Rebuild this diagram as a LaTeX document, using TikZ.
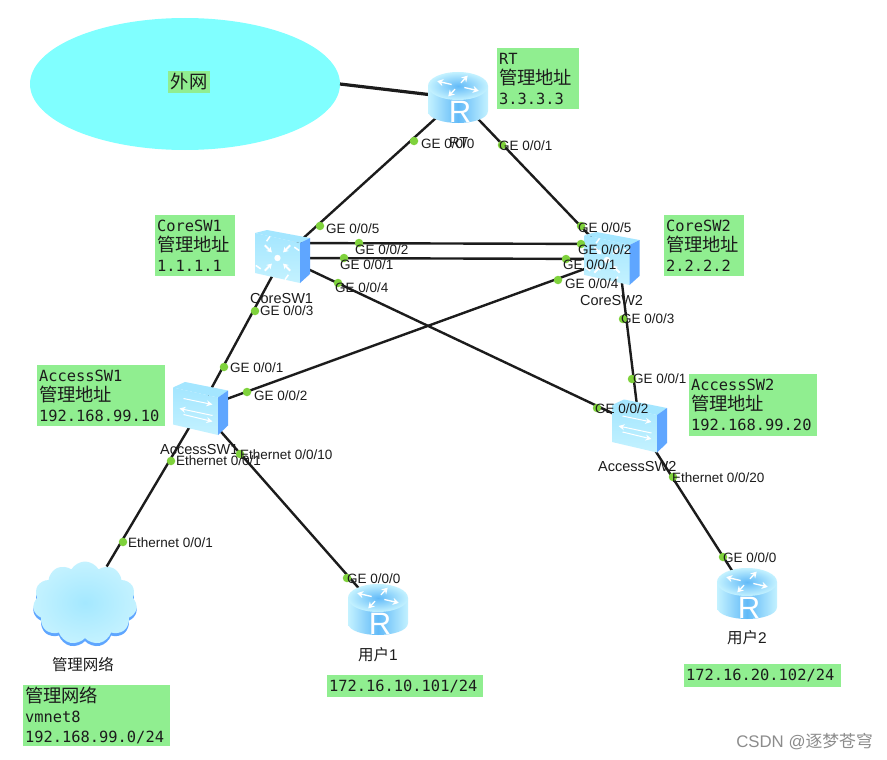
\documentclass[tikz,border=0pt]{standalone}
\usepackage{fontspec}
\setmainfont{Liberation Sans}
\newfontfamily\cjkfont{Noto Sans CJK SC}
\newfontfamily\boxmono{DejaVu Sans Mono}
\usetikzlibrary{shapes.geometric,shapes.symbols,arrows.meta}
\definecolor{boxgreen}{HTML}{90EE90}
\definecolor{netcyan}{HTML}{80FFFF}
\definecolor{portgreen}{HTML}{7FD23C}
\definecolor{inkdark}{HTML}{1C1C1C}
\definecolor{icA}{HTML}{A4E6FF}
\definecolor{icB}{HTML}{62BAF8}
\definecolor{icC}{HTML}{5FA6FF}
\definecolor{icD}{HTML}{C4F2FF}
\definecolor{icE}{HTML}{A4E8FF}
\newcommand{\mt}[1]{{\fontsize{15.4}{20}\selectfont\boxmono #1}}
\newcommand{\ct}[1]{{\fontsize{18.3}{20}\selectfont\cjkfont #1}}
\tikzset{
  x=1pt,y=-1pt,
  link/.style={line width=2.4pt,color=inkdark},
  thicklink/.style={line width=3.2pt,color=inkdark},
  iconbox/.style={inner sep=0pt,outer sep=0pt,minimum width=#1,minimum height=52},
  greenbox/.style 2 args={fill=boxgreen,draw=none,inner xsep=2pt,inner ysep=0pt,outer sep=0pt,
    minimum width=#1,minimum height=#2,text width=#1-4,align=left,anchor=north west,
    font=\fontsize{15.4}{20}\selectfont,text=inkdark},
  portdot/.style={circle,fill=portgreen,inner sep=0pt,minimum size=8.5},
  portlab/.style={anchor=west,inner sep=0pt,font=\fontsize{13.5}{15}\selectfont,text=inkdark},
  devlab/.style={inner sep=0pt,font=\fontsize{14.5}{16}\selectfont,text=inkdark},
  cjklab/.style={inner sep=0pt,font=\fontsize{15.5}{17}\selectfont,text=inkdark},
  routerIcon/.pic={
    \shade[left color=icD,right color=icD,middle color=icB]
      (-30,-12) -- (-30,13) .. controls (-30,21) and (-14,25) .. (0,25)
      .. controls (14,25) and (30,21) .. (30,13) -- (30,-12) -- cycle;
    \shade[inner color=icB,outer color=icD] (0,-12) ellipse [x radius=30,y radius=14];
    \foreach \a in {25,115,205,295}{
      \draw[white,line width=1.3pt,-{Stealth[length=6pt,width=7pt]},shift={(0,-12)},yscale=0.5] (\a:7) -- (\a:23);
    }
    \node[text=white,inner sep=0pt,font=\fontsize{31}{31}\selectfont] (-letter) at (2,14) {R};
  },
  coreIcon/.pic={
    \fill[icA] (-27.5,-24) -- (-15.5,-27) -- (27.5,-19) -- (17.5,-14) -- cycle;
    \shade[top color=icA,bottom color=icD] (-27.5,-24) -- (17.5,-14) -- (17.5,26) -- (-27.5,16) -- cycle;
    \fill[icC] (17.5,-14) -- (27.5,-19) -- (27.5,17) -- (17.5,26) -- cycle;
    \fill[white] (-5,1) circle [radius=3.2];
    \foreach \a in {45,135,225,315}{
      \draw[white,line width=1.8pt,-{Stealth[length=5pt,width=6pt]}] (-5,1) ++(\a:18) -- ++(\a+180:10);
      \draw[white,line width=1.5pt] (-5,1) ++(\a+12:20) -- ++(\a+80:6);
    }
  },
  accessIcon/.pic={
    \fill[icA] (-27.5,-21) -- (-15.5,-26.5) -- (27.5,-18) -- (17.5,-11) -- cycle;
    \shade[top color=icA,bottom color=icD] (-27.5,-21) -- (17.5,-11) -- (17.5,26.5) -- (-27.5,16) -- cycle;
    \fill[icC] (17.5,-11) -- (27.5,-18) -- (27.5,17) -- (17.5,26.5) -- cycle;
    \draw[white,line width=1pt,-{Stealth[length=6pt,width=6pt]}] (-17,-10) -- (12,-4);
    \draw[white,line width=1pt,-{Stealth[length=6pt,width=6pt]}] (12,7) -- (-21,0);
    \draw[white,line width=1pt,-{Stealth[length=6pt,width=6pt]}] (-17,6) -- (12,13);
  },
}
\newcommand{\portmark}[6]{%
  \node[portdot] (d#1) at (#2,#3) {};
  \node[portlab] (l#1) at (#4,#5) {#6};
}
\begin{document}
\begin{tikzpicture}
\useasboundingbox (0,0) rectangle (887,760);
\fill[white] (0,0) rectangle (887,760);

% outside network
\node[ellipse,fill=netcyan,inner sep=0pt,outer sep=0pt,minimum width=310,minimum height=132] (net) at (185,84) {};

% management cloud
\node[cloud,cloud puffs=11,cloud puff arc=120,aspect=1.25,fill=icC,inner sep=0pt,minimum width=104,minimum height=83] (cloudshadow) at (85,606) {};
\node[cloud,cloud puffs=11,cloud puff arc=120,aspect=1.25,inner color=icE,outer color=icD,inner sep=0pt,minimum width=104,minimum height=83] (cloudnet) at (85,603) {};

% device footprints
\node[iconbox=60] (rt) at (458,98) {};
\node[iconbox=60] (r1) at (378,610) {};
\node[iconbox=60] (r2) at (747,594) {};
\node[iconbox=55] (core1) at (282.5,257) {};
\node[iconbox=55] (core2) at (612,259) {};
\node[iconbox=55] (acc1) at (200.5,408.5) {};
\node[iconbox=55] (acc2) at (639.5,426) {};

% links
\draw[thicklink] (net.east) -- (rt.center);
\draw[link] (rt.center) -- (core1.center);
\draw[link] (rt.center) -- (core2.center);
\draw[link] ([yshift=14pt]core1.center) -- ([yshift=15pt]core2.center);
\draw[link] ([yshift=-1pt]core1.center) -- (core2.center);
\draw[link] (core1.center) -- (acc1.center);
\draw[link] (core1.center) -- (acc2.center);
\draw[link] (core2.center) -- (acc1.center);
\draw[link] ([xshift=7pt]core2.center) -- (acc2.center);
\draw[link] (acc1.center) -- (cloudnet);
\draw[link] (acc1.center) -- (r1.center);
\draw[link] (acc2.center) -- (r2.center);

% device icons
\pic (rtI) at (rt.center) {routerIcon};
\pic (r1I) at (r1.center) {routerIcon};
\pic (r2I) at (r2.center) {routerIcon};
\pic at (core1.center) {coreIcon};
\pic at (core2.center) {coreIcon};
\pic at (acc1.center) {accessIcon};
\pic at (acc2.center) {accessIcon};

% device names
\node[devlab,anchor=west] (nRT) at (449,143) {RT};
\node[devlab,anchor=west] (nC1) at (250,299) {CoreSW1};
\node[devlab,anchor=west] (nC2) at (580,301) {CoreSW2};
\node[devlab,anchor=west] (nA1) at (160,450) {AccessSW1};
\node[devlab,anchor=west] (nA2) at (598,467) {AccessSW2};
\node[cjklab] (nU1) at (378,655) {\cjkfont 用户\rmfamily 1};
\node[cjklab] (nU2) at (747,638) {\cjkfont 用户\rmfamily 2};
\node[cjklab] (nM) at (83,665) {\cjkfont 管理网络};

% ports
\portmark{a}{414}{141}{421}{144}{GE 0/0/0}
\portmark{b}{502}{145}{499}{146}{GE 0/0/1}
\portmark{c}{320}{226}{326}{229}{GE 0/0/5}
\portmark{e}{581}{226}{578}{228}{GE 0/0/5}
\portmark{f}{359}{243}{355}{250}{GE 0/0/2}
\portmark{g}{581}{244}{578}{250}{GE 0/0/2}
\portmark{h}{344}{258}{340}{265}{GE 0/0/1}
\portmark{i}{566}{259}{563}{265}{GE 0/0/1}
\portmark{j}{338}{283}{335}{288}{GE 0/0/4}
\portmark{k}{558}{280}{565}{284}{GE 0/0/4}
\portmark{m}{255}{311}{260}{311}{GE 0/0/3}
\portmark{n}{623}{319}{621}{319}{GE 0/0/3}
\portmark{o}{224}{367}{230}{368}{GE 0/0/1}
\portmark{p}{247}{392}{254}{396}{GE 0/0/2}
\portmark{q}{171}{461}{176}{461}{Ethernet 0/0/1}
\portmark{r}{240}{454}{240}{455}{Ethernet 0/0/10}
\portmark{s}{123}{542}{128}{543}{Ethernet 0/0/1}
\portmark{t}{347}{578}{347}{579}{GE 0/0/0}
\portmark{u}{632}{379}{633}{379}{GE 0/0/1}
\portmark{v}{597}{408}{595}{409}{GE 0/0/2}
\portmark{w}{673}{477}{672}{478}{Ethernet 0/0/20}
\portmark{y}{723}{557}{723}{558}{GE 0/0/0}

% notes
\node[fill=boxgreen,inner sep=0pt,minimum width=42,minimum height=22,text=inkdark] (noteNet) at (189,82) {\ct{外网}};
\node[greenbox={82}{61}] (noteRT) at (497,48) {\mt{RT}\\\ct{管理地址}\\\mt{3.3.3.3}};
\node[greenbox={80}{61}] (noteC1) at (155,215) {\mt{CoreSW1}\\\ct{管理地址}\\\mt{1.1.1.1}};
\node[greenbox={80}{61}] (noteC2) at (664,215) {\mt{CoreSW2}\\\ct{管理地址}\\\mt{2.2.2.2}};
\node[greenbox={128}{61}] (noteA1) at (37,365) {\mt{AccessSW1}\\\ct{管理地址}\\\mt{192.168.99.10}};
\node[greenbox={128}{62}] (noteA2) at (689,374) {\mt{AccessSW2}\\\ct{管理地址}\\\mt{192.168.99.20}};
\node[greenbox={147}{61}] (noteM) at (23,685) {\ct{管理网络}\\\mt{vmnet8}\\\mt{192.168.99.0/24}};
\node[greenbox={156}{22}] (noteU1) at (327,675) {\mt{172.16.10.101/24}};
\node[greenbox={157}{23}] (noteU2) at (684,664) {\mt{172.16.20.102/24}};

% watermark
\node[anchor=east,inner sep=0pt,text=black!45,font=\fontsize{16.8}{18}\selectfont] (mark) at (873,742) {CSDN @\cjkfont 逐梦苍穹};
\end{tikzpicture}
\end{document}
